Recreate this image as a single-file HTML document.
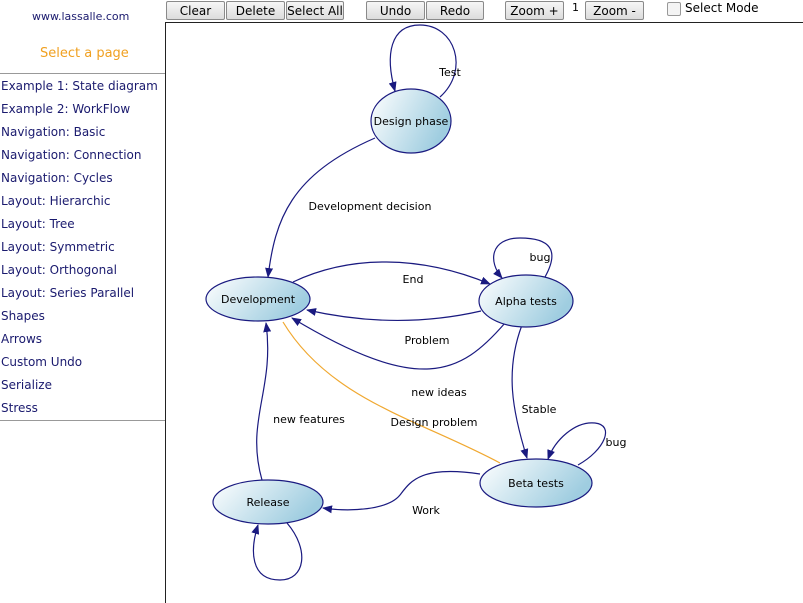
<!DOCTYPE html>
<html><head><meta charset="utf-8"><style>
body{margin:0;width:803px;height:596px;overflow:hidden;background:#fff;font-family:Tahoma,"DejaVu Sans","Liberation Sans",sans-serif;position:relative}
.t{position:absolute;white-space:nowrap}
.side{position:absolute;left:1px;font-size:12px;color:#1a1a6e}
.btn{position:absolute;top:1px;height:19px;border:1px solid #8a8a8a;border-radius:2px;background:linear-gradient(#f6f6f6,#dcdcdc);font-size:12px;color:#000;text-align:center;line-height:19px;box-sizing:border-box}
</style></head><body>
<div class="t" style="left:32px;top:10px;font-size:11px;color:#1a1a6e">www.lassalle.com</div>
<div class="t" style="left:40px;top:46px;font-size:13px;color:#f0a020">Select a page</div>
<div style="position:absolute;left:0;top:73px;width:165px;border-top:1px solid #999"></div>
<div style="position:absolute;left:0;top:420px;width:165px;border-top:1px solid #999"></div>
<div class="side" style="top:79px">Example 1: State diagram</div>
<div class="side" style="top:102px">Example 2: WorkFlow</div>
<div class="side" style="top:125px">Navigation: Basic</div>
<div class="side" style="top:148px">Navigation: Connection</div>
<div class="side" style="top:171px">Navigation: Cycles</div>
<div class="side" style="top:194px">Layout: Hierarchic</div>
<div class="side" style="top:217px">Layout: Tree</div>
<div class="side" style="top:240px">Layout: Symmetric</div>
<div class="side" style="top:263px">Layout: Orthogonal</div>
<div class="side" style="top:286px">Layout: Series Parallel</div>
<div class="side" style="top:309px">Shapes</div>
<div class="side" style="top:332px">Arrows</div>
<div class="side" style="top:355px">Custom Undo</div>
<div class="side" style="top:378px">Serialize</div>
<div class="side" style="top:401px">Stress</div>
<div style="position:absolute;left:165px;top:22px;width:640px;height:580px;border-left:1px solid #222;border-top:1px solid #222"></div>
<div class="btn" style="left:166px;width:59px">Clear</div>
<div class="btn" style="left:226px;width:59px">Delete</div>
<div class="btn" style="left:286px;width:58px">Select All</div>
<div class="btn" style="left:366px;width:59px">Undo</div>
<div class="btn" style="left:426px;width:58px">Redo</div>
<div class="btn" style="left:505px;width:59px">Zoom +</div>
<div class="t" style="left:572px;top:1px;font-size:11px">1</div>
<div class="btn" style="left:585px;width:59px">Zoom -</div>
<div style="position:absolute;left:667px;top:2px;width:12px;height:12px;border:1px solid #999;border-radius:2px;background:#f4f4f4"></div>
<div class="t" style="left:685px;top:1px;font-size:12px">Select Mode</div>
<svg width="803" height="596" style="position:absolute;left:0;top:0" font-family="Tahoma,DejaVu Sans,Liberation Sans,sans-serif" font-size="11">
<defs>
<linearGradient id="g" x1="0" x2="1" y1="0" y2="0.4"><stop offset="0" stop-color="#fff"/><stop offset="1" stop-color="#9fcde0"/></linearGradient>
<marker id="a" markerWidth="10" markerHeight="8" refX="9" refY="4" orient="auto" markerUnits="userSpaceOnUse"><path d="M0,0L10,4L0,8z" fill="#1a1a80"/></marker>
</defs>
<g fill="none" stroke="#1a1a80" stroke-width="1.2">
<path d="M440,97 C470,70 455,25 420,25 C390,25 385,55 395,91" marker-end="url(#a)"/>
<path d="M375,138 C290,175 275,220 268,277" marker-end="url(#a)"/>
<path d="M293,282 C350,255 420,255 490,284" marker-end="url(#a)"/>
<path d="M481,311 C420,325 360,322 307,310" marker-end="url(#a)"/>
<path d="M505,323 C460,375 420,395 292,318" marker-end="url(#a)"/>
<path d="M545,277 C560,250 550,238 520,238 C490,238 488,262 502,278" marker-end="url(#a)"/>
<path d="M522,325 C505,370 512,410 527,458" marker-end="url(#a)"/>
<path d="M578,465 C605,450 615,425 595,423 C575,421 555,440 548,459" marker-end="url(#a)"/>
<path d="M480,474 C420,465 410,482 400,495 C388,510 350,512 323,508" marker-end="url(#a)"/>
<path d="M262,480 C245,420 275,390 266,323" marker-end="url(#a)"/>
<path d="M287,523 C310,550 305,580 280,580 C250,580 250,550 258,525" marker-end="url(#a)"/>
<path d="M500,463 C420,420 330,400 283,322" stroke="#f0a830"/>
</g>
<g stroke="#1a1a80" stroke-width="1.2" fill="url(#g)">
<ellipse cx="411" cy="121" rx="40" ry="32"/>
<ellipse cx="258" cy="299" rx="52" ry="22"/>
<ellipse cx="526" cy="301" rx="47" ry="26"/>
<ellipse cx="536" cy="483" rx="56" ry="24"/>
<ellipse cx="268" cy="502" rx="55" ry="22"/>
</g>
<g fill="#000" text-anchor="middle">
<text x="411" y="125">Design phase</text>
<text x="258" y="303">Development</text>
<text x="526" y="305">Alpha tests</text>
<text x="536" y="487">Beta tests</text>
<text x="268" y="506">Release</text>
<text x="450" y="76">Test</text>
<text x="370" y="210">Development decision</text>
<text x="413" y="283">End</text>
<text x="427" y="344">Problem</text>
<text x="439" y="396">new ideas</text>
<text x="434" y="426">Design problem</text>
<text x="309" y="423">new features</text>
<text x="540" y="261">bug</text>
<text x="539" y="413">Stable</text>
<text x="616" y="446">bug</text>
<text x="426" y="514">Work</text>
</g>
</svg>
</body></html>
